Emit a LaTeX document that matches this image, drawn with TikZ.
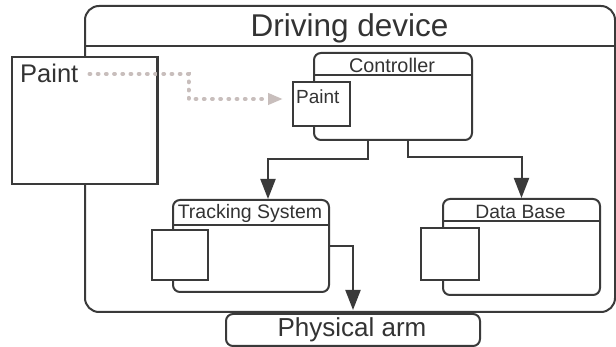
\documentclass[tikz,border=0pt]{standalone}
\usepackage{fontspec}
\setmainfont{Liberation Sans}
\usetikzlibrary{arrows.meta,calc}
\definecolor{ink}{HTML}{3A3A3A}
\definecolor{txt}{HTML}{333333}
\definecolor{dotc}{RGB}{200,190,188}
\tikzset{
  box/.style={draw=ink, line width=2pt, fill=white, inner sep=0pt, anchor=north west},
  rbox/.style={box, rounded corners=7pt},
  lbl/.style={text=txt, inner sep=0pt, anchor=base},
  conn/.style={draw=ink, line width=2pt, -{Triangle[length=20pt,width=15pt]}},
  dotconn/.style={draw=dotc, line width=4pt, line cap=round, dash pattern=on 0.8pt off 7.4pt,
     -{Triangle[length=15pt,width=11pt]}},
}
\begin{document}
\begin{tikzpicture}[x=1pt,y=-1pt]
\useasboundingbox (0,0) rectangle (616,347);
% outer driving device
\node[box, rounded corners=14pt, minimum width=530pt, minimum height=306pt] (dev) at (84,5) {};
\draw[ink, line width=2pt] (dev.west |- 0,46) -- (dev.east |- 0,46);
\node[lbl, font=\fontsize{31.5}{36}\selectfont] (devL) at (349.5,37) {Driving device};
% big paint box
\node[box, minimum width=145pt, minimum height=127pt] (paint) at (11,56) {};
\node[lbl, anchor=base west, font=\fontsize{25.5}{30}\selectfont] (paintL) at (20,83) {Paint};
% controller
\node[rbox, minimum width=158pt, minimum height=87pt] (ctrl) at (313,52) {};
\draw[ink, line width=2pt] (ctrl.west |- 0,75) -- (ctrl.east |- 0,75);
\node[lbl, font=\fontsize{19.8}{24}\selectfont] (ctrlL) at (392,73) {Controller};
\node[box, minimum width=57pt, minimum height=44pt] (cpaint) at (292,81) {};
\node[lbl, anchor=base west, font=\fontsize{19}{23}\selectfont] (cpaintL) at (296,104) {Paint};
% tracking system
\node[rbox, minimum width=156pt, minimum height=92pt] (track) at (172,199) {};
\draw[ink, line width=2pt] (track.west |- 0,225) -- (track.east |- 0,225);
\node[lbl, font=\fontsize{19.5}{23}\selectfont] (trackL) at (250,219) {Tracking System};
\node[box, minimum width=56pt, minimum height=50pt] (tsq) at (151,229) {};
% data base
\node[rbox, minimum width=157pt, minimum height=96pt] (db) at (442,198) {};
\draw[ink, line width=2pt] (db.west |- 0,221) -- (db.east |- 0,221);
\node[lbl, font=\fontsize{19.3}{23}\selectfont] (dbL) at (520.5,219) {Data Base};
\node[box, minimum width=58pt, minimum height=52pt] (dsq) at (420,227) {};
% physical arm
\node[rbox, minimum width=254pt, minimum height=32pt] (arm) at (225,313) {};
\node[lbl, font=\fontsize{26}{30}\selectfont] (armL) at (352,337) {Physical arm};
% connectors
\draw[dotconn, shorten <=11pt, shorten >=9pt] (paintL.east) -- ++(110,0) |- ([yshift=5pt]cpaint.west);
\draw[ink, line width=2pt] (paint.north east) -- (paint.south east);
\draw[conn] ([xshift=-25pt]ctrl.south) -- ++(0,18) -| ([xshift=17pt]track.north);
\draw[conn] ([xshift=15pt]ctrl.south) -- ++(0,16) -| (db.north);
\draw[conn, shorten >=3pt] (track.east) -| (arm.north);
\end{tikzpicture}
\end{document}
